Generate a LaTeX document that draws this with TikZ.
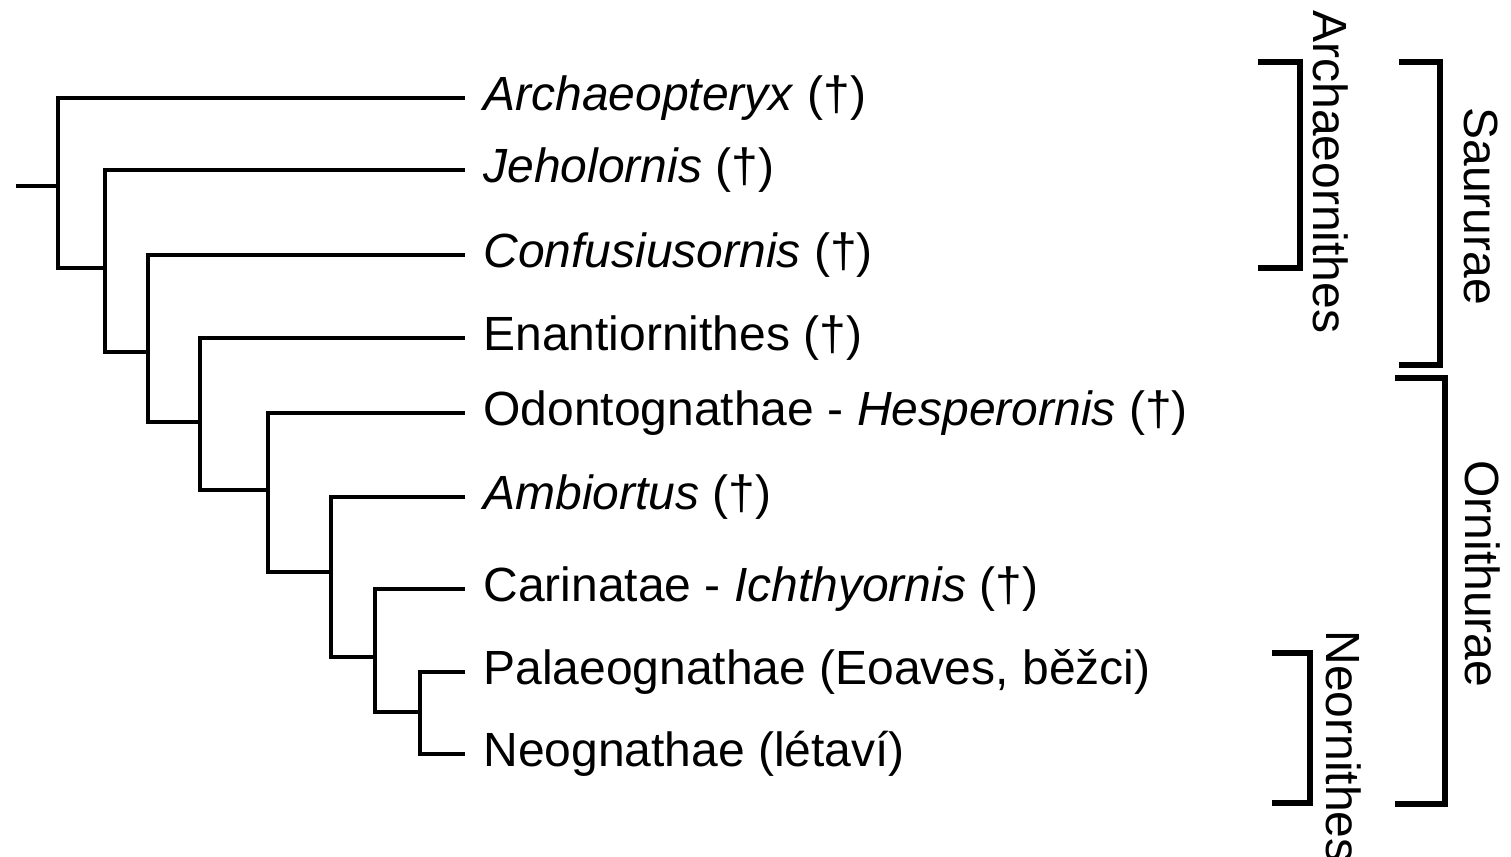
\documentclass[tikz,border=0pt]{standalone}
\usepackage{fontspec}
\setmainfont{Liberation Sans}
\usetikzlibrary{positioning}

\begin{document}
\begin{tikzpicture}[x=0.5pt,y=-0.5pt,
      br/.style={line width=2pt,line join=miter},
      lf/.style={anchor=west,inner xsep=9pt,inner ysep=0pt,
                 font=\fontsize{24}{28}\selectfont},
      clade/.style={line width=3pt,line join=miter},
      cl/.style={anchor=west,rotate=-90,inner sep=0pt,
                 font=\fontsize{24}{28}\selectfont}]
    \useasboundingbox (0,0) rectangle (1511,857);
    % leaves
    \node[lf] (a) at (465,98)  {\textit{Archaeopteryx} (†)};
    \node[lf] (b) at (465,170) {\textit{Jeholornis} (†)};
    \node[lf] (c) at (465,255) {\textit{Confusiusornis} (†)};
    \node[lf] (d) at (465,338) {Enantiornithes (†)};
    \node[lf] (e) at (465,413) {Odontognathae - \textit{Hesperornis} (†)};
    \node[lf] (f) at (465,497) {\textit{Ambiortus} (†)};
    \node[lf] (g) at (465,589) {Carinatae - \textit{Ichthyornis} (†)};
    \node[lf] (h) at (465,672) {Palaeognathae (Eoaves, běžci)};
    \node[lf] (i) at (465,754) {Neognathae (létaví)};
    % inner nodes
    \coordinate (r)  at (16,186);
    \coordinate (n1) at (58,186);
    \coordinate (n2) at (105,268);
    \coordinate (n3) at (148,352);
    \coordinate (n4) at (200,422);
    \coordinate (n5) at (268,490);
    \coordinate (n6) at (331,572);
    \coordinate (n7) at (375,657);
    \coordinate (n8) at (420,712);
    \draw[br] (r) -- (n1);
    \draw[br] (a.west) -| (n1) |- (n2);
    \draw[br] (b.west) -| (n2) |- (n3);
    \draw[br] (c.west) -| (n3) |- (n4);
    \draw[br] (d.west) -| (n4) |- (n5);
    \draw[br] (e.west) -| (n5) |- (n6);
    \draw[br] (f.west) -| (n6) |- (n7);
    \draw[br] (g.west) -| (n7) |- (n8);
    \draw[br] (h.west) -| (n8) |- (i.west);
    % clades
    \draw[clade] (1258,62) -- (1300,62) -- (1300,268) -- (1258,268);
    \draw[clade] (1399,62) -- (1440,62) -- (1440,365) -- (1399,365);
    \draw[clade] (1395,378) -- (1445,378) -- (1445,804) -- (1395,804);
    \draw[clade] (1272,653) -- (1310,653) -- (1310,803) -- (1272,803);
    \node[cl] (arch) at (1331,10)  {Archaeornithes};
    \node[cl] (saur) at (1481,107) {Saururae};
    \node[cl] (orni) at (1483,460) {Ornithurae};
    \node[cl] (neor) at (1344,630) {Neornithes};
  \end{tikzpicture}
\end{document}
